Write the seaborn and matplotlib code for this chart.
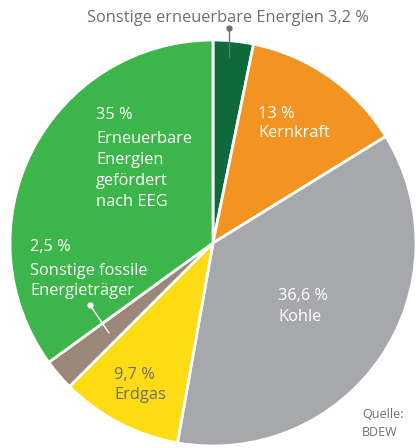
import matplotlib
matplotlib.use("Agg")
import matplotlib.pyplot as plt
import seaborn as sns

# Data (clockwise from 12 o'clock)
sources = ["Sonstige erneuerbare Energien", "Kernkraft", "Kohle", "Erdgas",
           "Sonstige fossile Energieträger", "Erneuerbare Energien gefördert nach EEG"]
shares = [3.2, 13, 36.6, 9.7, 2.5, 35]
colors = ["#0e6a3b", "#f39322", "#a7a8ab", "#fddc16", "#9a877a", "#3cb54a"]

sns.set_theme(style="white")
plt.rcParams['font.family'] = ['Open Sans', 'DejaVu Sans']

W, H = 416, 448
fig = plt.figure(figsize=(W / 100, H / 100), dpi=100)
ax = fig.add_axes([0, 0, 1, 1])

cx, cy, r = 213, H - 243, 203
ax.pie(shares, colors=colors, startangle=90, counterclock=False,
       center=(cx, cy), radius=r, frame=True,
       wedgeprops=dict(edgecolor='white', linewidth=2))
ax.set_xlim(0, W)
ax.set_ylim(0, H)
ax.set_aspect('equal')
ax.axis('off')


def y(v):
    return H - v


fs = 11.8
txt_grey = '#6d6e71'


def lines(x0, rows, color):
    for yy, s in rows:
        ax.text(x0, y(yy), s, color=color, fontsize=fs, va='center')


# labels inside the wedges
lines(96, [(115, "35 %"), (139, "Erneuerbare"), (160, "Energien"),
           (181, "gefördert"), (202, "nach EEG")], 'white')
lines(258, [(114, "13 %"), (133, "Kernkraft")], 'white')
lines(278, [(296, "36,6 %"), (317, "Kohle")], 'white')
lines(114, [(375, "9,7 %"), (395, "Erdgas")], txt_grey)
lines(30, [(247, "2,5 %"), (271, "Sonstige fossile"), (291, "Energieträger")], 'white')

# top label with leader
ax.text(228, y(18), "Sonstige erneuerbare Energien 3,2 %", color=txt_grey,
        fontsize=fs, ha='center', va='center')
ax.plot([229, 229], [y(28), y(57)], color=txt_grey, lw=1)
ax.plot([229], [y(28)], 'o', color=txt_grey, ms=3.5)

# leader into brown wedge
ax.plot([90, 109], [y(305), y(333)], color='white', lw=1)
ax.plot([90], [y(305)], 'o', color='white', ms=3.5)

ax.text(362, y(414), "Quelle:", color=txt_grey, fontsize=9, va='center')
ax.text(362, y(432), "BDEW", color=txt_grey, fontsize=9, va='center')

fig.savefig("out.png", dpi=100)
